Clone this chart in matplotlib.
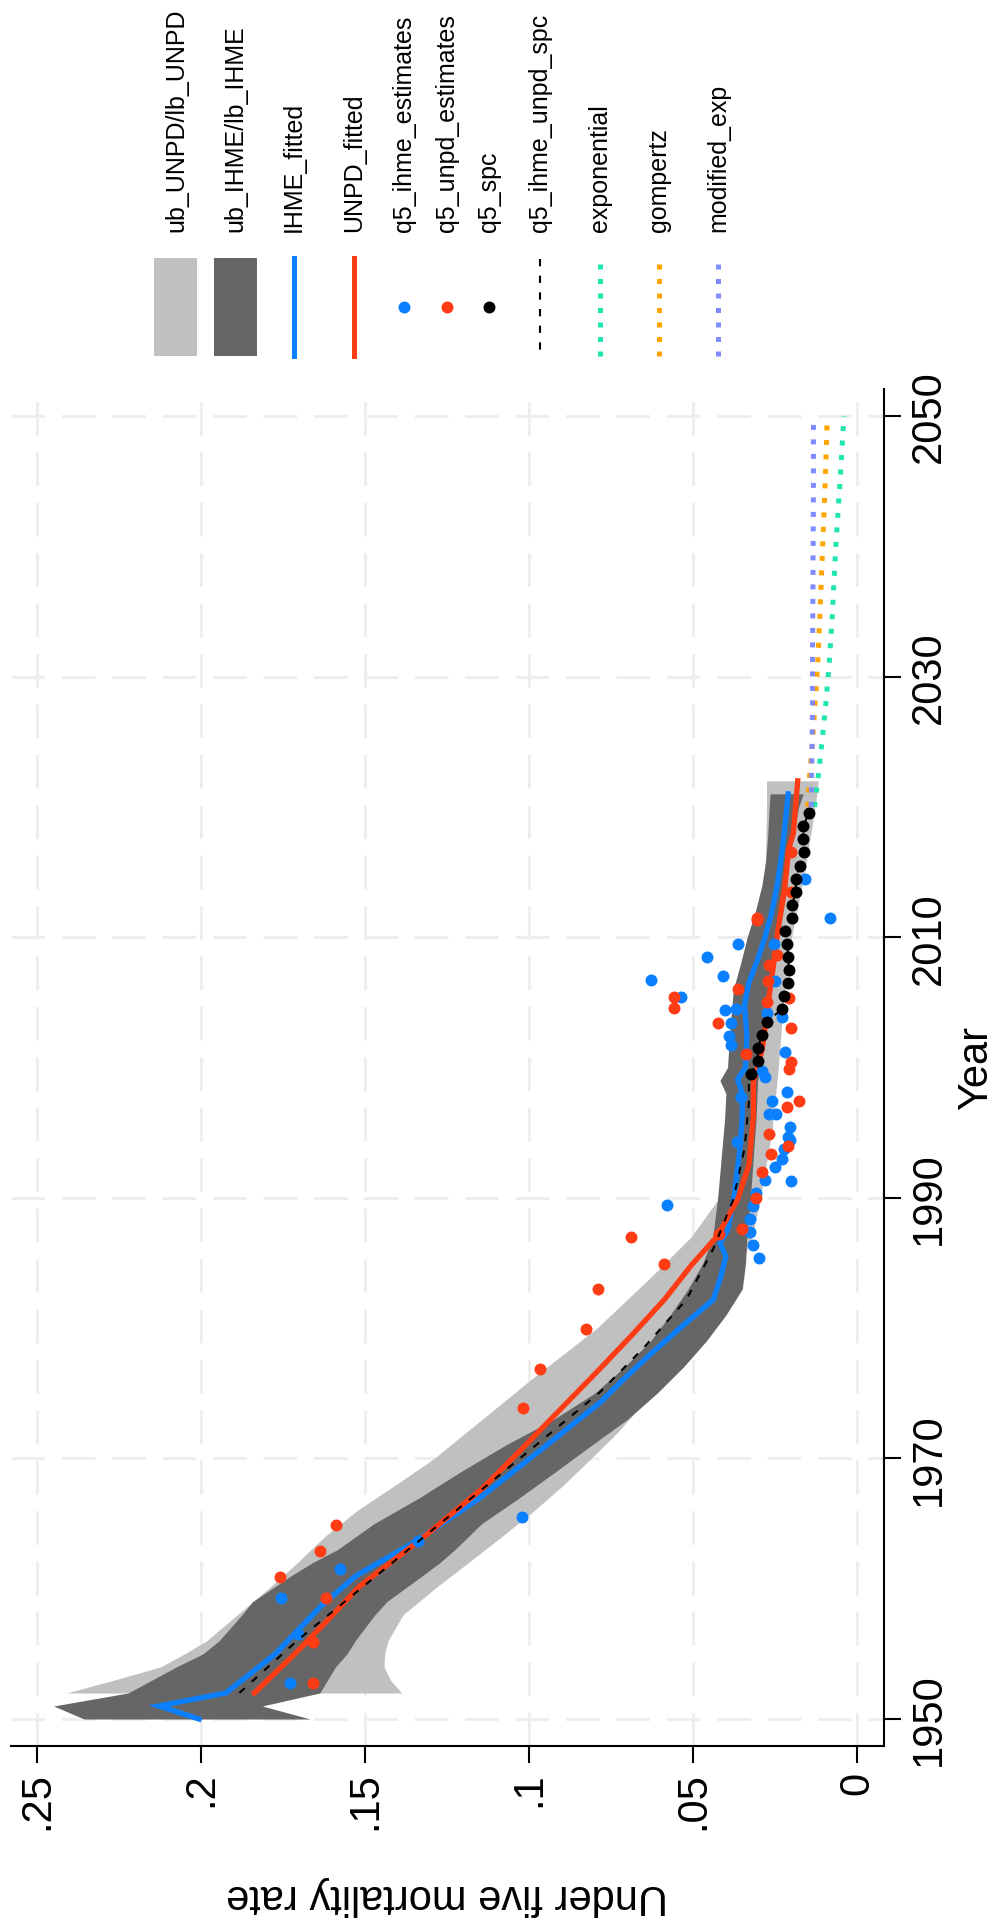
import matplotlib

matplotlib.use("Agg")
import matplotlib.pyplot as plt
from matplotlib.lines import Line2D
from matplotlib.patches import Rectangle

plt.rcParams["font.family"] = ["Liberation Sans", "DejaVu Sans"]

# ---- data -------------------------------------------------------------
# IHME uncertainty band
ihme_band_year = [1950, 1951, 1952, 1954, 1955, 1956, 1958, 1959, 1961, 1962, 1963,
                  1965, 1967, 1969, 1971, 1973, 1975, 1977, 1979, 1981, 1983, 1985,
                  1987, 1990, 1994, 1996, 1998, 1999, 2000, 2002, 2004, 2006, 2008,
                  2010, 2012, 2014, 2016, 2018, 2020, 2021]
ihme_ub = [.2356, .2449, .2222, .2075, .1994, .1945, .1875, .1843, .1725, .1660, .1584,
           .1472, .1333, .1207, .1073, .0925, .0800, .0710, .0630, .0570, .0515, .0470,
           .0440, .0425, .0411, .0404, .0400, .0418, .0395, .0390, .0384, .0377, .0355,
           .0335, .0310, .0290, .0278, .0272, .0268, .0265]
ihme_lb = [.1667, .1813, .1638, .1590, .1555, .1530, .1470, .1434, .1325, .1272, .1226,
           .1144, .1028, .0918, .0810, .0700, .0610, .0530, .0460, .0400, .0350, .0340,
           .0336, .0325, .0314, .0308, .0305, .0303, .0296, .0285, .0275, .0262, .0250,
           .0240, .0226, .0213, .0210, .0195, .0178, .0164]

# UNPD uncertainty band
unpd_band_year = [1952, 1953, 1954, 1955, 1956, 1958, 1960, 1962, 1964, 1966, 1968,
                  1970, 1972, 1974, 1976, 1978, 1980, 1982, 1984, 1987, 1990, 1995,
                  2000, 2005, 2010, 2015, 2020, 2022]
unpd_ub = [.2409, .2263, .2123, .2050, .1983, .1889, .1795, .1706, .1623, .1524, .1405,
           .1289, .1192, .1094, .0997, .0895, .0793, .0709, .0625, .0506, .0420, .0385,
           .0370, .0350, .0310, .0280, .0276, .0276]
unpd_lb = [.1388, .1423, .1442, .1440, .1430, .1384, .1288, .1185, .1083, .0984, .0893,
           .0811, .0730, .0660, .0590, .0520, .0460, .0410, .0370, .0320, .0295, .0260,
           .0240, .0225, .0200, .0160, .0128, .0118]

# fitted curves
ihme_fit_year = [1950, 1951, 1952, 1955, 1958.7, 1961, 1963.7, 1966.9, 1970.7, 1974.3,
                 1976, 1978, 1980, 1982.2, 1984, 1985.5, 1986.5, 1987.5, 1989.7, 1993.8,
                 1996.3, 1998, 1999.1, 2000, 2002.5, 2004.8, 2006.5, 2008.3, 2009.9,
                 2011.7, 2014.2, 2016.8, 2019, 2021]
ihme_fit = [.2006, .2128, .1924, .1773, .1633, .1527, .1341, .1154, .0962, .0783,
            .0715, .0630, .0540, .0438, .0415, .0400, .0418, .0395, .0377, .0357,
            .0350, .0350, .0364, .0340, .0336, .0343, .0330, .0303, .0282,
            .0262, .0242, .0228, .0218, .0210]

unpd_fit_year = [1952, 1955, 1957.4, 1960.2, 1963.8, 1967.7, 1970.7, 1976.9, 1979.5,
                 1982.2, 1984.8, 1987.1, 1989.9, 1992.5, 1996.3, 1998.9, 2001.4, 2005.3,
                 2007.8, 2010.4, 2013.7, 2016.8, 2018, 2022]
unpd_fit = [.1837, .1714, .1621, .1516, .1329, .1142, .1023, .0783, .0685,
            .0587, .0506, .0425, .0364, .0330, .0316, .0316, .0289, .0269,
            .0255, .0242, .0221, .0208, .0194, .0181]

# survey point estimates
ihme_est_year = [1952.8, 1956.5, 1959.3, 1961.5, 1963.7, 1965.5, 1985.4, 1986.4, 1987.4,
                 1988.4, 1989.4, 1989.45, 1990.4, 1991.3, 1991.4, 1992.4, 1993.0, 1993.75,
                 1994.3, 1994.4, 1994.7, 1995.4, 1996.4, 1996.4, 1997.4, 1997.7, 1998.1,
                 1999.3, 1999.7, 2001.2, 2001.7, 2002.4, 2003.4, 2003.9, 2004.2, 2004.4,
                 2004.5, 2005.4, 2006.6, 2006.7, 2007.0, 2008.5, 2009.5, 2009.5, 2011.45,
                 2014.5]
ihme_est = [.1729, .1703, .1755, .1575, .1338, .1020, .0299, .0316, .0326,
            .0327, .0316, .0580, .0309, .0201, .0280, .0251, .0228, .0224,
            .0366, .0205, .0212, .0205, .0269, .0248, .0259, .0353, .0215,
            .0280, .0289, .0221, .0384, .0391, .0384, .0228, .0275, .0404,
            .0370, .0536, .0251, .0628, .0408, .0458, .0364, .0252, .0082,
            .0158]

unpd_est_year = [1952.8, 1955.9, 1959.3, 1960.9, 1962.9, 1964.9, 1973.9, 1976.9, 1979.9,
                 1983.0, 1984.9, 1987.0, 1987.2, 1987.6, 1990.0, 1992.0, 1993.4, 1994.0,
                 1994.9, 1997.0, 1997.4, 1999.9, 2000.4, 2001.0, 2003.0, 2003.4, 2004.6,
                 2005.0, 2005.3, 2005.4, 2006.0, 2006.6, 2007.9, 2008.6, 2011.3, 2011.5,
                 2013.5, 2016.5]
unpd_est = [.1658, .1658, .1619, .1759, .1638, .1588, .1018, .0967, .0827,
            .0791, .0590, .0689, .0420, .0350, .0309, .0289, .0262, .0210,
            .0269, .0215, .0178, .0208, .0201, .0339, .0201, .0425, .0557,
            .0275, .0208, .0557, .0364, .0273, .0269, .0244, .0305, .0305,
            .0200, .0200]

spc_year = [1999.5, 2000.5, 2001.5, 2002.5, 2003.5, 2004.5, 2005.5, 2006.5, 2007.5,
            2008.5, 2009.5, 2010.5, 2011.5, 2012.5, 2013.5, 2014.5, 2015.5, 2016.5,
            2017.5, 2018.5, 2019.5]
spc = [.0323, .0303, .0303, .0289, .0276, .0228, .0224, .0210, .0208,
       .0210, .0214, .0219, .0198, .0198, .0187, .0187, .0174, .0162,
       .0164, .0164, .0148]

# combined ihme/unpd series before the spc years
comb_year = [1952, 1956.1, 1963.8, 1970.7, 1975.1, 1978.5, 1982.2, 1986.1, 1989.9,
             1993.8, 1997.3, 1998.9]
comb = [.1883, .1703, .1329, .0994, .0783, .0650, .0520, .0438, .0377,
        .0343, .0330, .0330]

# projections
proj_year = [2020, 2022, 2025, 2028, 2031, 2035, 2040, 2045, 2050]
proj_exponential = [.0130, .0120, .0107, .0095, .0085, .0075, .0065, .0052, .0040]
proj_gompertz = [.0151, .0146, .0136, .0128, .0120, .0113, .0105, .0097, .0091]
proj_modified_exp = [.0140, .0139, .0137, .0136, .0136, .0135, .0134, .0133, .0133]

rate_ticks = [0.25, 0.20, 0.15, 0.10, 0.05, 0.0]
rate_tick_labels = [".25", ".2", ".15", ".1", ".05", "0"]
year_ticks = [1950, 1970, 1990, 2010, 2030, 2050]

legend_labels = ["ub_UNPD/lb_UNPD", "ub_IHME/lb_IHME", "IHME_fitted", "UNPD_fitted",
                 "q5_ihme_estimates", "q5_unpd_estimates", "q5_spc",
                 "q5_ihme_unpd_spc", "exponential", "gompertz", "modified_exp"]

# ---- styles -----------------------------------------------------------
LIGHT = "#c0c0c0"
DARK = "#666666"
BLUE = "#0a80ff"
RED = "#ff3c14"
TEAL = "#1ee6ae"
ORANGE = "#ffa500"
PURPLE = "#7f8cff"
GRID = "#eeeeee"

W, H = 997, 1924
fig = plt.figure(figsize=(W / 100, H / 100), dpi=100)
ax = fig.add_axes([11 / W, 1 - 1747 / H, (884 - 11) / W, (1747 - 390) / H])
ax.set_xlim(0.2579, -0.0082)
ax.set_ylim(1947.93, 2052.07)

ax.fill_betweenx(unpd_band_year, unpd_lb, unpd_ub, color=LIGHT, lw=0, zorder=2)
ax.fill_betweenx(ihme_band_year, ihme_lb, ihme_ub, color=DARK, lw=0, zorder=3)
ax.plot(ihme_fit, ihme_fit_year, color=BLUE, lw=3.8, zorder=4, solid_joinstyle="miter")
ax.plot(unpd_fit, unpd_fit_year, color=RED, lw=3.8, zorder=5)
ax.plot(ihme_est, ihme_est_year, "o", color=BLUE, ms=8.6, mew=0, zorder=6)
ax.plot(unpd_est, unpd_est_year, "o", color=RED, ms=8.6, mew=0, zorder=7)
ax.plot(spc, spc_year, "o", color="black", ms=8.6, mew=0, zorder=8)
ax.plot(comb + spc, comb_year + spc_year, color="black", lw=1.5,
        dashes=(3.5, 4.5), zorder=9)
dot_style = dict(lw=3.6, linestyle=(0, (1, 1.9)), dash_capstyle="butt", zorder=10)
ax.plot(proj_exponential, proj_year, color=TEAL, **dot_style)
ax.plot(proj_gompertz, proj_year, color=ORANGE, **dot_style)
ax.plot(proj_modified_exp, proj_year, color=PURPLE, **dot_style)

# axes, ticks and grid
for side in ["top", "left"]:
    ax.spines[side].set_visible(False)
for side in ["bottom", "right"]:
    ax.spines[side].set_linewidth(1.5)
ax.yaxis.tick_right()
ax.set_xticks(rate_ticks)
ax.set_xticklabels(rate_tick_labels, rotation=90, fontsize=30)
ax.set_yticks(year_ticks)
ax.set_yticklabels([str(y) for y in year_ticks], fontsize=30)
for t in ax.yaxis.get_major_ticks():
    t.label2.set_rotation(90)
    t.label2.set_va("center")
    t.label2.set_ha("left")
ax.tick_params(axis="both", length=12, width=1.5, pad=6)
ax.grid(True, color=GRID, lw=2.2, linestyle=(0, (11, 5.5)), zorder=0)
ax.set_axisbelow(True)

fig.text(447 / W, 1 - 1896 / H, "Under five mortality rate", rotation=180,
         ha="center", va="center", fontsize=30)
fig.text(976 / W, 1 - 1068 / H, "Year", rotation=90, ha="center", va="center",
         fontsize=30)

# legend, laid out in pixel units
lax = fig.add_axes([0, 0, 1, 1])
lax.set_xlim(0, W)
lax.set_ylim(H, 0)
lax.axis("off")
key_x = [176, 235, 294, 354, 404, 447, 489, 540, 600, 659, 718]
lax.add_patch(Rectangle((154, 259), 43, 98, color=LIGHT, lw=0))
lax.add_patch(Rectangle((214, 259), 43, 98, color=DARK, lw=0))
lax.add_line(Line2D([294, 294], [259, 357], color=BLUE, lw=3.6))
lax.add_line(Line2D([354, 354], [259, 357], color=RED, lw=3.6))
for x, c in zip(key_x[4:7], [BLUE, RED, "black"]):
    lax.add_line(Line2D([x], [308], marker="o", color=c, ms=8.6, mew=0))
lax.add_line(Line2D([540, 540], [260, 357], color="black", lw=1.5, dashes=(3.5, 4.5)))
for x, c in zip(key_x[8:], [TEAL, ORANGE, PURPLE]):
    lax.add_line(Line2D([x, x], [357, 262], color=c, lw=3.6,
                        linestyle=(0, (1, 1.9)), dash_capstyle="butt"))
for x, lab in zip(key_x, legend_labels):
    lax.text(x, 232, lab, rotation=90, ha="center", va="bottom", fontsize=18)

fig.savefig("out.png", dpi=100)
